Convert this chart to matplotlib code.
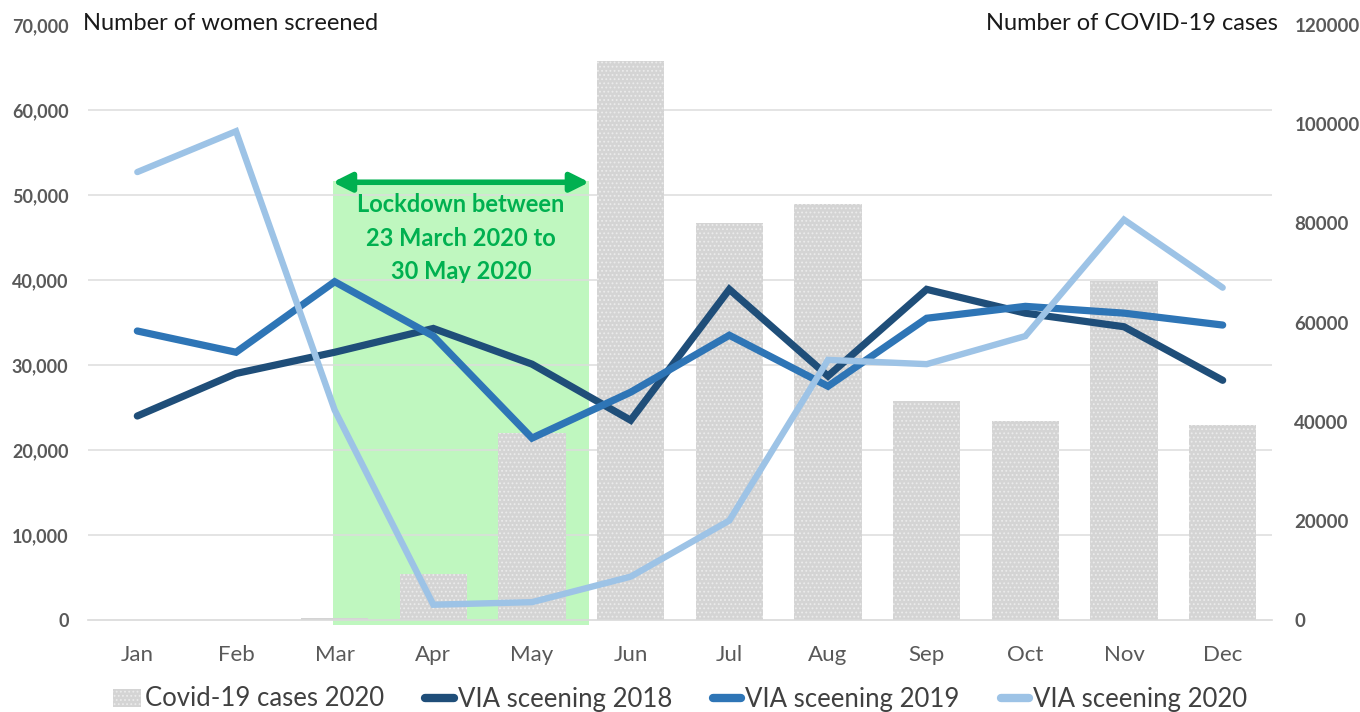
import numpy as np
import matplotlib.pyplot as plt
from matplotlib.patches import Rectangle, Patch
from matplotlib.lines import Line2D
from matplotlib.ticker import FuncFormatter

plt.rcParams['font.family'] = ['Lato', 'DejaVu Sans']
plt.rcParams['hatch.linewidth'] = 0.8

months = ['Jan', 'Feb', 'Mar', 'Apr', 'May', 'Jun',
          'Jul', 'Aug', 'Sep', 'Oct', 'Nov', 'Dec']
covid_2020 = [0, 0, 400, 9300, 37800, 112700, 80100, 83800, 44100, 40100, 68400, 39300]
via_2018 = [24000, 29000, 31500, 34300, 30100, 23500, 38900, 28700, 38900, 36100, 34500, 28200]
via_2019 = [34000, 31500, 39800, 33400, 21400, 26800, 33500, 27500, 35500, 36900, 36100, 34700]
via_2020 = [52700, 57500, 24700, 1800, 2100, 5100, 11700, 30600, 30100, 33400, 47100, 39100]
lockdown_text = 'Lockdown between\n23 March 2020 to\n30 May 2020'

c18, c19, c20 = '#1f4e79', '#2e75b6', '#9dc3e6'
green = '#00b050'
tick_grey = '#595959'
bar_grey = '#d4d4d4'
dot_grey = '#ebebeb'

fig = plt.figure(figsize=(13.6, 7.12), dpi=100)
ax = fig.add_axes([88 / 1360, 92 / 712, 1184 / 1360, 595 / 712])
ax2 = ax.twinx()
ax.set_zorder(ax2.get_zorder() + 1)
ax.patch.set_visible(False)

x = np.arange(len(months))

# bars + lockdown band on the right-hand axis
ax2.bar(x, covid_2020, width=0.68, color=bar_grey, hatch='....',
        edgecolor=dot_grey, linewidth=0, zorder=2)
ax2.add_patch(Rectangle((1.98, -1000), 2.6, 89500, facecolor='#bff7bf',
                        edgecolor='none', zorder=0.4, clip_on=False))
ax2.set_ylim(0, 120000)
ax2.set_yticks(np.arange(0, 120001, 20000))
ax2.set_yticks(np.linspace(0, 120000, 8), minor=True)
ax2.grid(True, which='minor', axis='y', color='#dcdcdc', linewidth=1.1)
ax2.set_axisbelow(True)
ax2.tick_params(axis='y', which='both', length=0, pad=16,
                labelsize=13.5, labelcolor=tick_grey)
for t in ax2.get_yticklabels():
    t.set_fontweight('bold')

# screening lines on the left axis
ax.plot(x, via_2018, color=c18, lw=5.2, solid_capstyle='round', solid_joinstyle='miter', zorder=3)
ax.plot(x, via_2019, color=c19, lw=5.2, solid_capstyle='round', solid_joinstyle='miter', zorder=3)
ax.plot(x, via_2020, color=c20, lw=4.6, solid_capstyle='round', solid_joinstyle='miter', zorder=3)

ax.set_ylim(0, 70000)
ax.set_xlim(-0.5, 11.5)
ax.set_yticks(np.arange(0, 70001, 10000))
ax.yaxis.set_major_formatter(FuncFormatter(lambda v, p: f'{int(v):,}'))
ax.set_xticks(x)
ax.set_xticklabels(months)
ax.tick_params(axis='y', length=0, pad=14, labelsize=13, labelcolor=tick_grey)
ax.tick_params(axis='x', length=0, pad=18, labelsize=16, labelcolor=tick_grey)
for t in ax.get_yticklabels():
    t.set_fontweight('bold')

for a in (ax, ax2):
    for s in a.spines.values():
        s.set_visible(False)
ax.spines['bottom'].set_visible(True)
ax.spines['bottom'].set_color('#d9d9d9')
ax.spines['bottom'].set_linewidth(1.2)

# lockdown arrow and label
ax.annotate('', xy=(4.58, 51500), xytext=(1.98, 51500),
            arrowprops=dict(arrowstyle='<|-|>', color=green, lw=4,
                            mutation_scale=28, shrinkA=0, shrinkB=0))
ax.text(3.28, 50200, lockdown_text, ha='center', va='top', color=green,
        fontsize=17, fontweight='bold', linespacing=1.55, zorder=4)

fig.text(83 / 1360, 1 - 24 / 712, 'Number of women screened',
         ha='left', va='center', fontsize=17, color='#1a1a1a')
fig.text(1278 / 1360, 1 - 24 / 712, 'Number of COVID-19 cases',
         ha='right', va='center', fontsize=17, color='#1a1a1a')

handles = [
    Patch(facecolor=bar_grey, hatch='....', edgecolor=dot_grey, linewidth=0,
          label='Covid-19 cases 2020'),
    Line2D([], [], color=c18, lw=6, solid_capstyle='round', label='VIA sceening 2018'),
    Line2D([], [], color=c19, lw=6, solid_capstyle='round', label='VIA sceening 2019'),
    Line2D([], [], color=c20, lw=6, solid_capstyle='round', label='VIA sceening 2020'),
]
fig.legend(handles=handles, loc='center', bbox_to_anchor=(0.5, 1 - 699 / 712),
           ncol=4, frameon=False, fontsize=18.5, handlelength=1.1,
           handletextpad=0.15, columnspacing=1.6, labelcolor='#404040')

fig.savefig('out.png', dpi=100)
